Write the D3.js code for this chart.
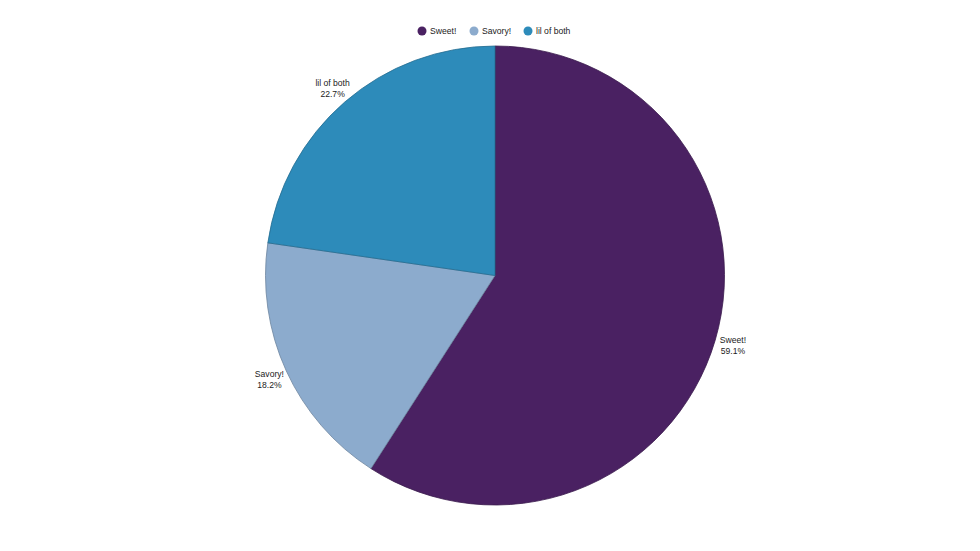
<!DOCTYPE html>
<html>
<head>
<meta charset="utf-8">
<script src="https://cdn.jsdelivr.net/npm/d3@7"></script>
<style>
  body { margin: 0; background: #fff; }
  text { font-family: "Liberation Sans", Arial, sans-serif; }
</style>
</head>
<body>
<svg id="chart" width="980" height="551"></svg>
<script>
// data
var categories = ["Sweet!", "Savory!", "lil of both"];
var counts = [13, 4, 5];
var colors = ["#4a2162", "#8cabcd", "#2d8bba"];

var width = 980, height = 551;
var cx = 495, cy = 275.5, radius = 229.5;
var svg = d3.select("#chart");

var total = d3.sum(counts);
var pie = d3.pie().sort(null).value(function(d){ return d.v; });
var arcs = pie(categories.map(function(c, i){ return {name: c, v: counts[i], color: colors[i]}; }));

var arc = d3.arc().innerRadius(0).outerRadius(radius);
var labelArc = d3.arc().innerRadius(248).outerRadius(248);

var g = svg.append("g").attr("transform", "translate(" + cx + "," + cy + ")");

g.selectAll("path.slice")
	.data(arcs)
	.enter()
	.append("path")
	.attr("class", "slice")
	.attr("d", arc)
	.attr("fill", function(d){ return d.data.color; })
	.attr("stroke", function(d){ return d3.color(d.data.color).darker(0.7); })
	.attr("stroke-width", 0.8);

// labels outside the slices
var lbl = g.selectAll("text.lbl")
	.data(arcs)
	.enter()
	.append("text")
	.attr("class", "lbl")
	.attr("text-anchor", "middle")
	.attr("font-size", 8.6)
	.attr("fill", "#222")
	.attr("transform", function(d){
		var p = labelArc.centroid(d);
		return "translate(" + p[0] + "," + p[1] + ")";
	});
lbl.append("tspan").attr("x", 0).attr("y", -2).text(function(d){ return d.data.name; });
lbl.append("tspan").attr("x", 0).attr("y", 9).text(function(d){
	return d3.format(".1f")(d.data.v / total * 100) + "%";
});

// legend
var legendX = [422, 474, 528];
var legend = svg.append("g").attr("class", "legend")
	.selectAll("g")
	.data(categories)
	.enter()
	.append("g")
	.attr("transform", function(d, i){ return "translate(" + legendX[i] + ",31)"; });
legend.append("circle")
	.attr("r", 4.5)
	.attr("fill", function(d, i){ return colors[i]; });
legend.append("text")
	.attr("x", 8)
	.attr("y", 3.2)
	.attr("font-size", 8.6)
	.attr("fill", "#222")
	.text(function(d){ return d; });
</script>
</body>
</html>
